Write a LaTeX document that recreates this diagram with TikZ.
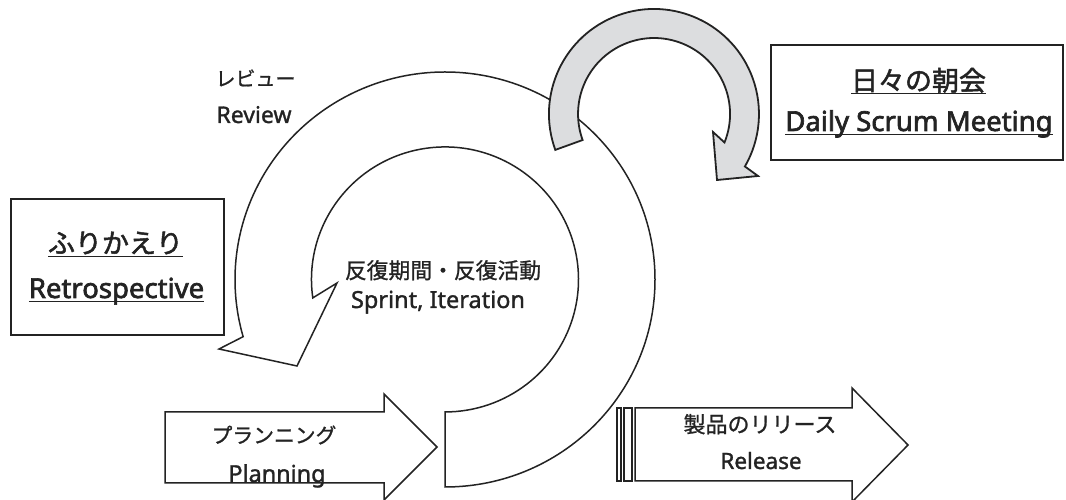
\documentclass[tikz,border=0pt]{standalone}
\usepackage{fontspec}
\setmainfont{Noto Sans}
\newfontfamily\lat[FakeBold=1.3]{Noto Sans}
\newfontfamily\latb[FakeBold=2.4]{Noto Sans}
\newfontfamily\jp[FakeBold=1.0]{Noto Sans CJK JP}
\newfontfamily\jpb[FakeBold=1.8]{Noto Sans CJK JP}
\definecolor{ink}{RGB}{35,35,35}
\definecolor{greyfill}{RGB}{220,221,223}
\newcommand\myul[1]{\setbox0=\hbox{#1}\rlap{\color{ink}\rule[-4pt]{\wd0}{1.3pt}}\box0}
\begin{document}
\begin{tikzpicture}[x=1pt,y=1pt,
  shapeline/.style={draw=ink, line width=1.5pt, line join=miter},
  boxstyle/.style={draw=ink, line width=1.8pt, fill=white, inner sep=0pt},
  lbl/.style={text=ink, inner sep=0pt, anchor=base},
  boxjp/.style={lbl, font=\jpb\fontsize{27}{27}\selectfont},
  boxen/.style={lbl, font=\latb\fontsize{27.5}{27.5}\selectfont},
]
\useasboundingbox (0,0) rectangle (1066,500);
\fill[white] (0,0) rectangle (1066,500);

% big sprint arrow
\draw[shapeline, fill=white] (445,13)
  arc[start angle=-90, end angle=196, x radius=210, y radius=207.5]
  -- (219,151) -- (297,134) -- (337,217) -- (312.8,202.1)
  arc[start angle=188, end angle=-90, x radius=133.5, y radius=132.5] -- cycle;

% daily grey arrow
\draw[shapeline, fill=greyfill, line width=1.8pt] (555.3,350.1)
  arc[start angle=200, end angle=-30, radius=105]
  -- (758,324) -- (717,320) -- (713,368) -- (724.5,357.5)
  arc[start angle=-22, end angle=200, radius=76] -- cycle;

% planning arrow
\draw[shapeline, fill=white] (165,88) -- (384,88) -- (384,106) -- (437,53) -- (384,0) -- (384,17) -- (165,17) -- cycle;

% release arrow
\draw[shapeline, fill=white] (635,92) -- (852,92) -- (852,112) -- (908,55) -- (852,-2) -- (852,19) -- (635,19) -- cycle;
\draw[shapeline] (617,19) rectangle (621,92);
\draw[shapeline] (624,19) rectangle (632,92);

% boxes
\node[boxstyle, minimum width=213pt, minimum height=136pt] (retro) at (117.5,233) {};
\node[boxstyle, minimum width=292pt, minimum height=115pt] (daily) at (917,397.5) {};

% labels
\node[boxjp] (retroJ) at (115.5,247) {\myul{ふりかえり}};
\node[boxen] (retroE) at (116.5,202) {\myul{Retrospective}};
\node[boxjp] (dailyJ) at (918.5,409.5) {\myul{日々の朝会}};
\node[boxen] (dailyE) at (919,369) {\myul{Daily Scrum Meeting}};

\node[lbl, font=\jp\fontsize{20}{20}\selectfont] (reviewJ) at (255.5,414) {レビュー};
\node[lbl, font=\lat\fontsize{23}{23}\selectfont] (reviewE) at (254,377) {Review};

\node[lbl, font=\jp\fontsize{21.8}{21.8}\selectfont] (sprintJ) at (443,221.5) {反復期間・反復活動};
\node[lbl, font=\lat\fontsize{23.5}{23.5}\selectfont] (sprintE) at (438,192) {Sprint, Iteration};

\node[lbl, font=\jp\fontsize{20.8}{20.8}\selectfont] (planJ) at (274,57) {プランニング};
\node[lbl, font=\lat\fontsize{23.4}{23.4}\selectfont] (planE) at (277,18) {Planning};

\node[lbl, font=\jp\fontsize{22}{22}\selectfont] (relJ) at (760,67.5) {製品のリリース};
\node[lbl, font=\lat\fontsize{22.5}{22.5}\selectfont] (relE) at (761,31) {Release};
\end{tikzpicture}
\end{document}
